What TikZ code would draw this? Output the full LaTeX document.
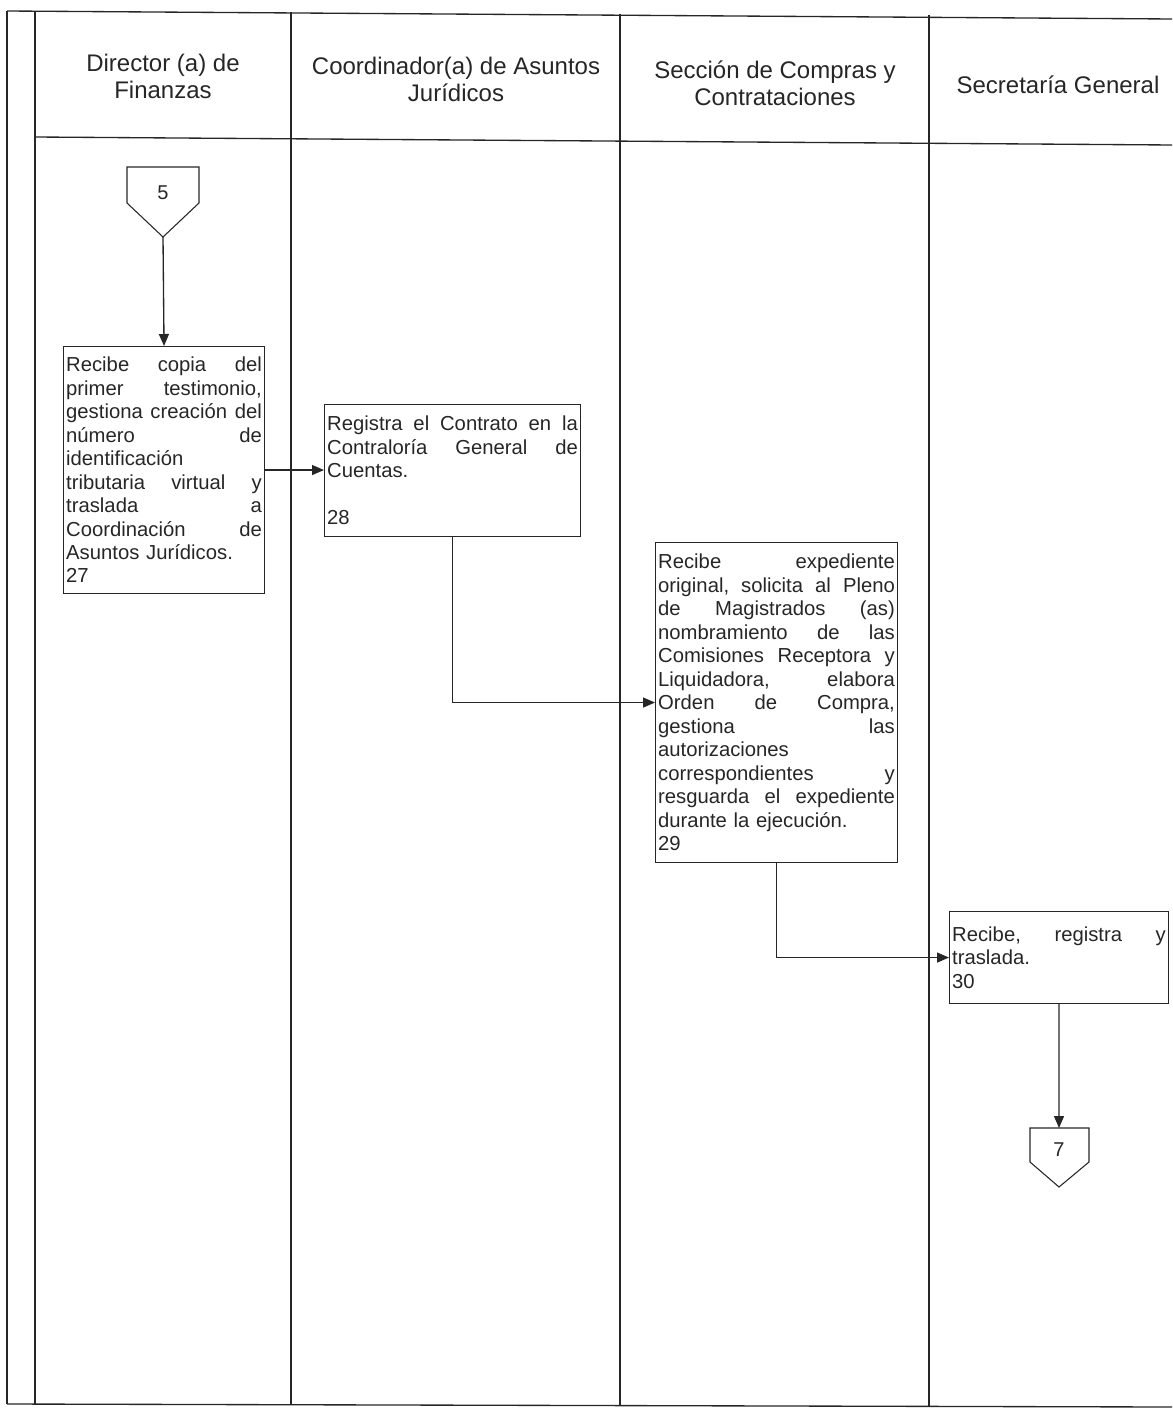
\documentclass[tikz,border=0pt]{standalone}
\usepackage{fontspec}
\setmainfont{Liberation Sans}
\usetikzlibrary{arrows.meta}
\definecolor{ink}{gray}{0.15}
\begin{document}
\begin{tikzpicture}[x=0.75pt,y=-0.75pt,
  lane/.style={draw=ink,line width=1pt},
  headtxt/.style={text=ink,align=center,font=\fontsize{18pt}{20.25pt}\selectfont,inner sep=0pt},
  stepbox/.style={draw=ink,line width=0.8pt,anchor=north west,inner xsep=2pt,inner ysep=2pt,text=ink,
    font=\fontsize{15.2pt}{17.6pt}\selectfont},
  conn/.style={draw=ink,line width=0.8pt},
  conntxt/.style={text=ink,inner sep=0pt,font=\fontsize{15pt}{17.6pt}\selectfont},
  flow/.style={draw=ink,line width=1pt,-{Triangle[length=9pt,width=7.5pt]}}]
\useasboundingbox (0,0) rectangle (1172,1409);
% swimlane frame
\draw[lane] (7,11) -- (1172,19);
\draw[lane] (7,11) -- (7,1404);
\draw[lane] (35,11) -- (35,1404);
\draw[lane] (291,12) -- (291,1405);
\draw[lane] (620,14) -- (620,1406);
\draw[lane] (929,15) -- (929,1407);
\draw[lane] (35,137) -- (1172,145);
\draw[lane] (7,1404) -- (1172,1407);
% headers
\node[headtxt] (h1) at (163,76) {Director (a) de\\Finanzas};
\node[headtxt] (h2) at (456,79) {Coordinador(a) de Asuntos\\Jurídicos};
\node[headtxt] (h3) at (775,83) {Sección de Compras y\\Contrataciones};
\node[headtxt] (h4) at (1058,85) {Secretaría General};
% off-page connector 5
\draw[conn] (127,167) -- (199,167) -- (199,203) -- (163,237) -- (127,203) -- cycle;
\node[conntxt] (c5) at (163,193) {5};
\coordinate (c5tip) at (163,237);
% boxes
\node[stepbox,minimum width=150.75pt,minimum height=185.25pt,text width=146.75pt] (b27) at (63,346) {%
Recibe\hfill copia\hfill del\\
primer\hfill testimonio,\\
gestiona\hfill creación\hfill del\\
número\hfill de\\
identificación\\
tributaria\hfill virtual\hfill y\\
traslada\hfill a\\
Coordinación\hfill de\\
Asuntos Jurídicos.\\
27};
\node[stepbox,minimum width=192pt,minimum height=99pt,text width=188pt] (b28) at (324,404) {%
Registra\hfill el\hfill Contrato\hfill en\hfill la\\
Contraloría\hfill General\hfill de\\
Cuentas.\\[17.6pt]
28};
\node[stepbox,minimum width=181.5pt,minimum height=240pt,text width=177.5pt] (b29) at (655,542) {%
Recibe\hfill expediente\\
original,\hfill solicita\hfill al\hfill Pleno\\
de\hfill Magistrados\hfill (as)\\
nombramiento\hfill de\hfill las\\
Comisiones\hfill Receptora\hfill y\\
Liquidadora,\hfill elabora\\
Orden\hfill de\hfill Compra,\\
gestiona\hfill las\\
autorizaciones\\
correspondientes\hfill y\\
resguarda\hfill el\hfill expediente\\
durante la ejecución.\\
29};
\node[stepbox,minimum width=164.25pt,minimum height=69pt,text width=160.25pt] (b30) at (949,911) {%
Recibe,\hfill registra\hfill y\\
traslada.\\
30};
% off-page connector 7
\draw[conn] (1030,1128) -- (1089,1128) -- (1089,1162) -- (1059,1187) -- (1030,1162) -- cycle;
\node[conntxt] (c7) at (1059,1150) {7};
\coordinate (c7top) at (1059,1128);
% flows
\draw[flow] (c5tip) -- (b27.north);
\draw[flow] (b27.east) -- (b27.east -| b28.west);
\draw[flow] (b28.south) |- (b29.west);
\draw[flow] (b29.south) |- (b30.west);
\draw[flow] (b30.south) -- (c7top);
\end{tikzpicture}
\end{document}
